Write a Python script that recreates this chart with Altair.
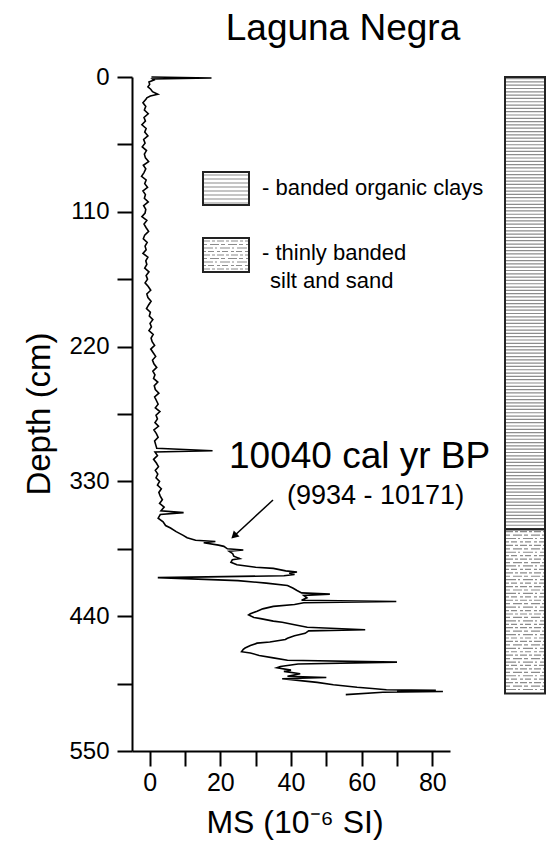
import altair as alt
import pandas as pd
import numpy as np

# ---------------- data ----------------
depth_cm = [0, 0.8, 1.6, 2.5, 4, 6, 8, 10, 12, 14, 15.5, 17,
            18, 21, 24, 27, 30, 33, 36, 39, 42, 45, 48, 51, 54, 57, 60, 63, 66, 69, 72, 75,
            78, 81, 84, 87, 90, 93, 96, 99, 102, 105, 108, 111, 114, 117, 120, 123, 126, 129,
            132, 135, 138, 141, 144, 147, 150, 153, 156, 159, 162, 165, 168, 171, 174, 177,
            180, 183, 186, 189, 192, 195, 198, 201, 204, 207, 210, 213, 216, 219, 222, 225,
            228, 231, 234, 237, 240, 243, 246, 249, 252, 255, 258, 261, 264, 267, 270, 273,
            276, 279, 282, 285, 288, 291, 294, 297, 300, 303, 305, 306, 309, 312, 315, 318,
            321, 324, 327, 330, 333, 336, 339, 342, 345, 348, 351, 354, 355.5, 357, 360, 363,
            366, 368, 371, 374, 376, 378, 379, 380, 382, 383, 385, 386, 387, 389, 391, 393,
            394, 396, 398, 400, 401, 403, 404, 405, 406, 407, 408.5, 411, 413, 415, 417, 419,
            421, 422, 423, 425, 427, 428, 429, 430.5, 432, 434, 436, 438, 439, 441, 442, 444,
            445, 447, 449, 451, 452, 454, 456, 458, 459, 461, 462, 464, 466, 467, 469, 470,
            472, 474, 476, 477.5, 479, 481, 482, 484, 485, 487, 489, 490, 491, 493, 494, 496,
            498, 499, 500, 500.5, 501, 501.5, 502, 504]
ms_si = [0.5, 17.5, 0.8, 1.2, -0.2, 0.0, -0.5, 0.3, 0.8, 2.3, 0.2, -0.8,
         -1.0, -1.9, -1.1, -1.5, -0.4, -1.6, -1.2, -2.2, -1.0, -1.4, -0.5, -1.7, -1.3, -2.1, -0.9, -1.5, -1.2, -0.3, -1.8, -1.1,
         -1.6, -2.3, -1.0, -1.4, -0.6, -1.9, -1.2, -1.5, -0.4, -1.7, -1.1, -1.3, -2.2, -0.8, -1.6, -1.0, -0.3, -1.4,
         -1.8, -0.7, -1.3, -1.0, -1.9, -0.5, -1.1, -0.8, -1.4, -0.2, -1.0, -0.6, -1.3, -0.4, 0.3, -0.8,
         -0.5, 0.4, -0.3, -0.9, 0.2, -0.1, 0.9, 0.1, 0.5, -0.2, 1.0, 0.4, 0.7, 1.4, 0.3, 1.0,
         1.7, 0.8, 1.2, 2.0, 0.9, 1.5, 1.1, 2.3, 1.3, 1.6, 2.6, 1.4, 1.9, 2.4, 1.6, 2.9,
         1.8, 2.2, 1.5, 2.5, 1.2, 1.9, 2.4, 1.4, 1.7, 2.0, 17.8, 1.5, 2.2, 1.1, 1.9, 2.5,
         1.6, 2.3, 1.8, 2.8, 2.2, 3.3, 2.6, 3.0, 3.6, 2.8, 4.1, 3.2, 9.6, 3.0, 2.4, 3.8,
         4.5, 5.9, 7.5, 9.5, 10.6, 13.0, 18.6, 15.3, 19.5, 21.0, 22.0, 26.5, 22.5, 23.5, 23.8, 25.5,
         23.4, 23.0, 24.7, 30.0, 35.0, 38.5, 41.7, 39.5, 41.0, 38.0, 2.3, 25.0, 33.0, 39.0, 40.5, 41.7,
         43.0, 51.0, 43.6, 44.5, 43.0, 69.8, 43.6, 41.0, 35.0, 32.0, 30.4, 28.5, 28.0, 29.5, 31.4, 35.0,
         37.5, 41.0, 44.6, 61.0, 45.0, 44.0, 41.0, 39.0, 38.4, 34.0, 30.4, 28.5, 27.0, 26.5, 26.0, 28.5,
         31.0, 35.0, 39.0, 70.0, 42.0, 37.0, 36.0, 40.0, 38.0, 42.6, 39.0, 50.0, 37.5, 44.0, 47.4, 52.0,
         58.7, 63.0, 67.0, 81.0, 70.0, 83.0, 66.0, 55.5]

lith_top = [0, 369]
lith_bottom = [369, 503]
lith_unit = ["banded organic clays", "thinly banded silt and sand"]

x_tick_values = [0, 10, 20, 30, 40, 50, 60, 70, 80]
y_tick_values = [0, 55, 110, 165, 220, 275, 330, 385, 440, 495, 550]

title_text = ["Laguna Negra"]
y_title_text = ["Depth (cm)"]
x_title_text = ["MS (10\u207b\u2076 SI)"]
age_text = ["10040 cal yr BP"]
range_text = ["(9934 - 10171)"]
legend_lines = ["- banded organic clays", "- thinly banded", "silt and sand"]

# ---------------- layout ----------------
FONT = "Liberation Sans"
L, T = 132, 77
W, H = 318, 674
COL_X0, COL_X1 = 373, 413

df = pd.DataFrame({"depth": depth_cm, "ms": ms_si})
lith = pd.DataFrame({"top": lith_top, "bottom": lith_bottom, "unit": lith_unit})

yscale = alt.Scale(domain=[0, 550], reverse=True, nice=False, zero=False)
xscale = alt.Scale(domain=[-5, 85], nice=False, zero=False)

x_axis = alt.Axis(values=x_tick_values, labelExpr="datum.value % 20 === 0 ? datum.label : ''",
                  tickSize=15, tickWidth=2, domainWidth=2, labelFontSize=25, labelPadding=4,
                  grid=False, title=None, labelFont=FONT, domainColor="black", tickColor="black",
                  labelColor="black", labelFlush=False)
y_axis = alt.Axis(values=y_tick_values, labelExpr="datum.value % 110 === 0 ? datum.label : ''",
                  tickSize=15, tickWidth=2, domainWidth=2, labelFontSize=24, labelPadding=8,
                  grid=False, title=None, labelFont=FONT, domainColor="black", tickColor="black",
                  labelColor="black", labelFlush=False)

curve = alt.Chart(df).mark_line(color="black", strokeWidth=1.6).encode(
    x=alt.X("ms:Q", scale=xscale, axis=x_axis),
    y=alt.Y("depth:Q", scale=yscale, axis=y_axis),
    order="depth:Q",
)

# lithology column: hatch texture (pure styling)
hatch_upper = pd.DataFrame({"h": np.arange(1.3, 368, 2.7)})
hu = alt.Chart(hatch_upper).mark_rule(color="#8c8c8c", strokeWidth=1.2).encode(
    y=alt.Y("h:Q", scale=yscale, axis=y_axis), x=alt.value(COL_X0 + 1), x2=alt.value(COL_X1 - 1))
hl_vals = np.arange(371, 502, 2.8)
hatch_lower = pd.DataFrame({"h": hl_vals, "d": [["a", "b", "c", "d"][i % 4] for i in range(len(hl_vals))]})
hl = alt.Chart(hatch_lower).mark_rule(color="#8c8c8c", strokeWidth=1.2).encode(
    y=alt.Y("h:Q", scale=yscale, axis=y_axis), x=alt.value(COL_X0 + 1), x2=alt.value(COL_X1 - 1),
    strokeDash=alt.StrokeDash("d:N", scale=alt.Scale(domain=["a", "b", "c", "d"],
                                                      range=[[7, 2, 3, 2], [4, 3, 9, 2], [10, 2, 2, 3], [3, 2, 6, 3]]),
                              legend=None))
col = alt.Chart(lith).mark_rect(fill="transparent", stroke="#222", strokeWidth=2).encode(
    y=alt.Y("top:Q", scale=yscale, axis=y_axis), y2="bottom:Q",
    x=alt.value(COL_X0), x2=alt.value(COL_X1))

# legend boxes
BX0, BX1 = 71, 117
legend_layers = []
for yy in [98, 102, 106, 110, 114, 118, 122, 126]:
    legend_layers.append(alt.Chart(pd.DataFrame({"a": [0]})).mark_rule(color="#8c8c8c", strokeWidth=1.2).encode(
        x=alt.value(BX0), x2=alt.value(BX1), y=alt.value(yy)))
for i, yy in enumerate([164, 167.5, 171, 174.5, 178, 181.5, 185, 188.5, 192]):
    dash = [[7, 2, 3, 2], [4, 3, 9, 2], [10, 2, 2, 3], [3, 2, 6, 3]][i % 4]
    legend_layers.append(alt.Chart(pd.DataFrame({"a": [0]})).mark_rule(color="#8c8c8c", strokeWidth=1.2, strokeDash=dash).encode(
        x=alt.value(BX0), x2=alt.value(BX1), y=alt.value(yy)))
for y0, y1 in [(95, 128), (161, 195)]:
    legend_layers.append(alt.Chart(pd.DataFrame({"a": [0]})).mark_rect(fill="transparent", stroke="#222", strokeWidth=2).encode(
        x=alt.value(BX0), x2=alt.value(BX1), y=alt.value(y0), y2=alt.value(y1)))


def txt(text_list, x, y, size, align="left", angle=0):
    kw = dict(font=FONT, fontSize=size, align=align, baseline="alphabetic", color="black")
    if angle:
        kw["angle"] = angle
    return alt.Chart(pd.DataFrame({"t": text_list})).mark_text(**kw).encode(
        text="t:N", x=alt.value(x), y=alt.value(y))


texts = [
    txt(title_text, 211, -37, 37, "center"),
    txt(y_title_text, -82, 337, 33, "center", 270),
    txt(x_title_text, 163, 756, 32, "center"),
    txt(age_text, 97, 391, 37),
    txt(range_text, 155, 427, 27),
    txt([legend_lines[0]], 130, 118, 22),
    txt([legend_lines[1]], 130, 183, 22),
    txt([legend_lines[2]], 138, 211, 22),
]

arrow_line = alt.Chart(pd.DataFrame({"a": [0]})).mark_rule(color="black", strokeWidth=1.5).encode(
    x=alt.value(141), y=alt.value(423), x2=alt.value(101), y2=alt.value(460))
arrow_head = alt.Chart(pd.DataFrame({"a": [0]})).mark_point(
    shape="triangle-up", filled=True, color="black", size=70, angle=227, opacity=1).encode(
    x=alt.value(102), y=alt.value(459))

chart = alt.layer(hu, hl, col, curve, *legend_layers, *texts, arrow_line, arrow_head).properties(
    width=W, height=H,
    autosize=alt.AutoSizeParams(type="none"),
    padding={"left": L, "top": T, "right": 550 - L - W, "bottom": 843 - T - H},
    background="white",
).configure_view(strokeWidth=0)

chart.save("out.html", embed_options={"renderer": "svg", "actions": False})
